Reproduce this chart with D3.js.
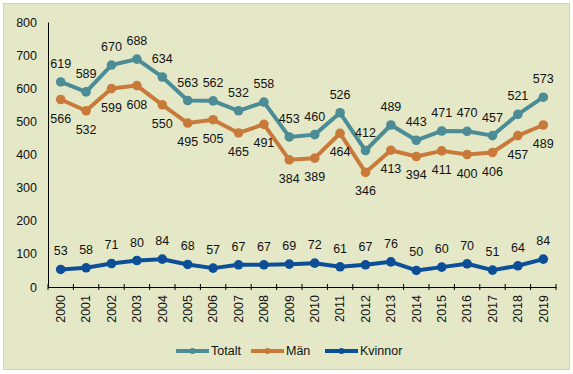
<!DOCTYPE html>
<html>
<head>
<meta charset="utf-8">
<script src="https://cdn.jsdelivr.net/npm/d3@7"></script>
<style>
  body { margin: 0; background: #fff; }
  svg text { font-family: "Liberation Sans", Arial, sans-serif; fill: #111; }
</style>
</head>
<body>
<div id="chart"></div>
<script>
const years = ["2000","2001","2002","2003","2004","2005","2006","2007","2008","2009",
  "2010","2011","2012","2013","2014","2015","2016","2017","2018","2019"];
const totalt = [619,589,670,688,634,563,562,532,558,453,460,526,412,489,443,471,470,457,521,573];
const man = [566,532,599,608,550,495,505,465,491,384,389,464,346,413,394,411,400,406,457,489];
const kvinnor = [53,58,71,80,84,68,57,67,67,69,72,61,67,76,50,60,70,51,64,84];
const yTicks = [0,100,200,300,400,500,600,700,800];

const series = [
  { name: "Totalt", values: totalt, color: "#4b8c97", labelPos: "above" },
  { name: "Män", values: man, color: "#c97a3b", labelPos: "below" },
  { name: "Kvinnor", values: kvinnor, color: "#0c4f98", labelPos: "above" }
];

const width = 573, height = 374;
const margin = { top: 22, right: 17, bottom: 87, left: 48 };

const svg = d3.select("#chart").append("svg")
  .attr("width", width)
  .attr("height", height);

// frame
svg.append("rect")
  .attr("x", 3.5).attr("y", 3.5)
  .attr("width", 566).attr("height", 366)
  .attr("fill", "#e4e8c7")
  .attr("stroke", "#cfcfcf");

let xScale = d3.scaleBand().domain(years).range([margin.left, width - margin.right]);
let yScale = d3.scaleLinear().domain([0, 800]).range([height - margin.bottom, margin.top]);

// y axis
let yAxis = d3.axisLeft(yScale).tickValues(yTicks).tickSize(0).tickPadding(11);
svg.append("g")
  .attr("transform", `translate(${margin.left},0)`)
  .call(yAxis)
  .call(g => g.select(".domain").attr("stroke", "#000"))
  .selectAll("text")
  .style("font-size", "12.5px");

// x axis
let xAxis = d3.axisBottom(xScale).tickSize(0);
const gx = svg.append("g")
  .attr("transform", `translate(0,${height - margin.bottom})`)
  .call(xAxis);
gx.select(".domain").attr("stroke", "#000");
gx.selectAll(".tick line").remove();
gx.selectAll(".tick text")
  .attr("transform", "rotate(-90)")
  .attr("x", -8)
  .attr("y", 0)
  .attr("dy", "0.35em")
  .style("text-anchor", "end")
  .style("font-size", "12.5px");
// tick marks at band edges
const edges = years.map(y => xScale(y)).concat([xScale(years[years.length - 1]) + xScale.bandwidth()]);
gx.selectAll(".edge")
  .data(edges)
  .enter()
  .append("line")
  .attr("x1", d => d).attr("x2", d => d)
  .attr("y1", -3).attr("y2", 3)
  .attr("stroke", "#000");

const cx = (i) => xScale(years[i]) + xScale.bandwidth() / 2;

const line = d3.line()
  .x((d, i) => cx(i))
  .y(d => yScale(d));

series.forEach(s => {
  const g = svg.append("g");
  g.append("path")
    .attr("d", line(s.values))
    .attr("fill", "none")
    .attr("stroke", s.color)
    .attr("stroke-width", 4)
    .attr("stroke-linejoin", "round");
  g.selectAll("circle")
    .data(s.values)
    .enter()
    .append("circle")
    .attr("cx", (d, i) => cx(i))
    .attr("cy", d => yScale(d))
    .attr("r", 4.8)
    .attr("fill", s.color);
  g.selectAll("text")
    .data(s.values)
    .enter()
    .append("text")
    .attr("x", (d, i) => cx(i))
    .attr("y", d => yScale(d) + (s.labelPos === "above" ? -14 : 23))
    .attr("text-anchor", "middle")
    .style("font-size", "12.5px")
    .text(d => d);
});

// legend
const legendX = [176, 251, 325];
const legend = svg.append("g").attr("transform", "translate(0,351)");
series.forEach((s, i) => {
  const lg = legend.append("g").attr("transform", `translate(${legendX[i]},0)`);
  lg.append("line")
    .attr("x1", 0).attr("x2", 33)
    .attr("stroke", s.color)
    .attr("stroke-width", 4);
  lg.append("circle")
    .attr("cx", 16.5).attr("r", 3)
    .attr("fill", s.color);
  lg.append("text")
    .attr("x", 35)
    .attr("dy", "0.35em")
    .style("font-size", "12.5px")
    .text(s.name);
});
</script>
</body>
</html>
